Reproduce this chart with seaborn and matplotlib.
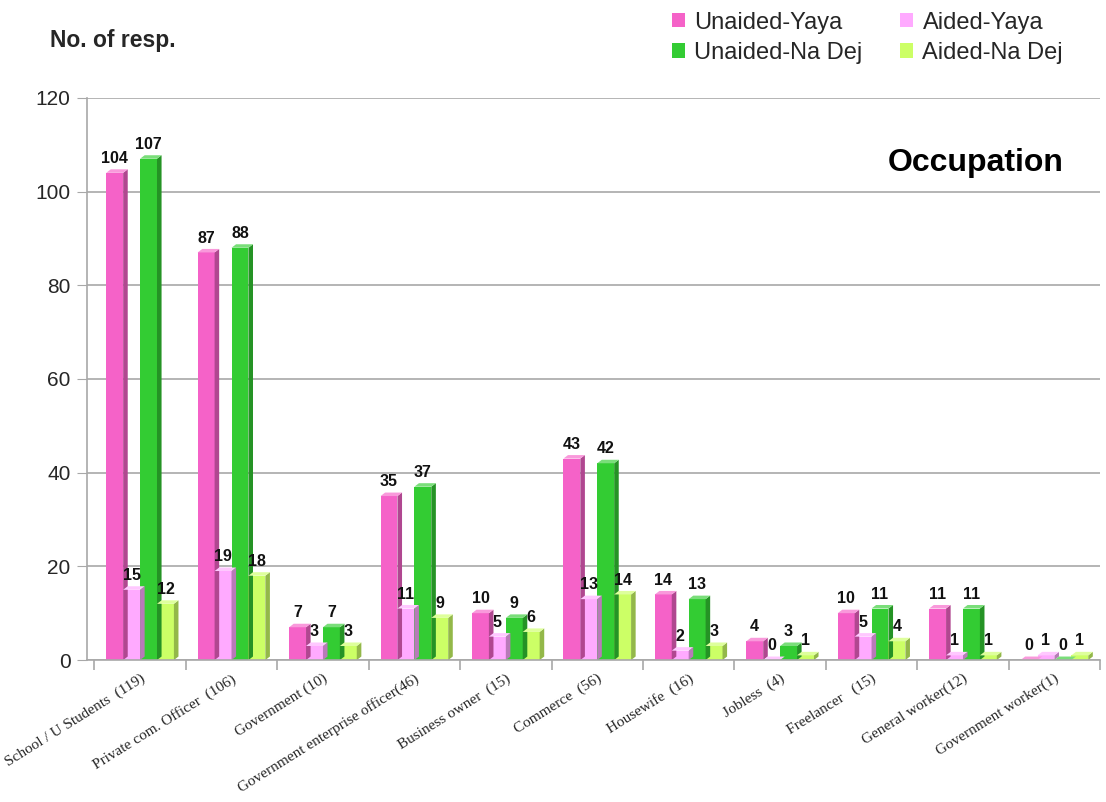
import matplotlib
matplotlib.use("Agg")
import matplotlib.pyplot as plt
from matplotlib.patches import Polygon, Patch
from matplotlib.colors import to_rgb
import seaborn as sns
import pandas as pd
import numpy as np

categories = [
    "School / U Students  (119)",
    "Private com. Officer  (106)",
    "Government (10)",
    "Government enterprise officer(46)",
    "Business owner  (15)",
    "Commerce  (56)",
    "Housewife  (16)",
    "Jobless  (4)",
    "Freelancer   (15)",
    "General worker(12)",
    "Government worker(1)",
]
series_names = ["Unaided-Yaya", "Aided-Yaya", "Unaided-Na Dej", "Aided-Na Dej"]
unaided_yaya = [104, 87, 7, 35, 10, 43, 14, 4, 10, 11, 0]
aided_yaya = [15, 19, 3, 11, 5, 13, 2, 0, 5, 1, 1]
unaided_nadej = [107, 88, 7, 37, 9, 42, 13, 3, 11, 11, 0]
aided_nadej = [12, 18, 3, 9, 6, 14, 3, 1, 4, 1, 1]
colors = ["#F562C8", "#FFAAFF", "#33CC33", "#CCFF66"]

rows = []
for name, vals in zip(series_names, [unaided_yaya, aided_yaya, unaided_nadej, aided_nadej]):
    for cat, v in zip(categories, vals):
        rows.append({"category": cat, "series": name, "value": v})
df = pd.DataFrame(rows)

sns.set_style("white")
plt.rcParams["font.family"] = ["Liberation Sans", "DejaVu Sans"]

fig = plt.figure(figsize=(11.06, 8.02), dpi=100)
ax = fig.add_axes([0.0787, 0.177, 0.916, 0.701])

sns.barplot(data=df, x="category", y="value", hue="series", hue_order=series_names,
            order=categories, palette=colors, width=0.74, saturation=1,
            edgecolor="none", ax=ax, legend=False)

ax.set_ylim(0, 120)
ax.set_xlim(-0.58, 10.49)
ax.set_yticks(range(0, 121, 20))
ax.yaxis.grid(True, color="#A8A8A8", linewidth=1.2)
ax.set_axisbelow(True)
ax.set_xlabel("")
ax.set_ylabel("")

# pseudo-3D depth: a darker side face and a lighter top face on every bar
dx, dy = 0.05, 0.75
for patch in list(ax.patches):
    x0 = patch.get_x()
    w = patch.get_width()
    h = patch.get_height()
    base = np.array(to_rgb(patch.get_facecolor()))
    dark = base * 0.72
    light = np.clip(base + (1 - base) * 0.35, 0, 1)
    side = Polygon([(x0 + w, 0), (x0 + w + dx, dy), (x0 + w + dx, h + dy), (x0 + w, h)],
                   closed=True, facecolor=dark, edgecolor="none", zorder=patch.get_zorder())
    top = Polygon([(x0, h), (x0 + dx, h + dy), (x0 + w + dx, h + dy), (x0 + w, h)],
                  closed=True, facecolor=light, edgecolor="none", zorder=patch.get_zorder())
    ax.add_patch(side)
    ax.add_patch(top)

# value labels
for container in ax.containers:
    ax.bar_label(container, padding=5, fontsize=11.5, fontweight="bold", color="#111111")

for s in ["top", "right"]:
    ax.spines[s].set_visible(False)
for s in ["left", "bottom"]:
    ax.spines[s].set_color("#A8A8A8")
    ax.spines[s].set_linewidth(1.2)

ax.tick_params(axis="y", labelsize=15, left=True, length=7, color="#A8A8A8", pad=5)
ax.set_xticks(np.arange(len(categories)))
ax.set_xticks(np.arange(len(categories) + 1) - 0.5, minor=True)
ax.tick_params(axis="x", which="major", bottom=False, pad=5)
ax.tick_params(axis="x", which="minor", bottom=True, length=7, color="#A8A8A8", width=1.2)
ax.set_xticklabels(categories, rotation=32, ha="right", rotation_mode="anchor",
                   fontsize=11, family=["Liberation Serif", "DejaVu Serif"])

ax.text(0.964, 0.884, "Occupation", transform=ax.transAxes, ha="right", va="center",
        fontsize=23, fontweight="bold", color="black")
fig.text(0.045, 0.950, "No. of resp.", fontsize=16.5, fontweight="bold", ha="left", va="center")

# legend filled row by row: Yaya pair on top, Na Dej pair below
order = [0, 2, 1, 3]
handles = [Patch(facecolor=colors[i], edgecolor="none") for i in order]
labels = [series_names[i] for i in order]
fig.legend(handles, labels, ncol=2, loc="upper left", bbox_to_anchor=(0.588, 1.012),
           frameon=False, fontsize=17, handlelength=0.55, handleheight=0.55,
           handletextpad=0.4, columnspacing=1.6, labelspacing=0.35)

fig.savefig("out.png", dpi=100)
